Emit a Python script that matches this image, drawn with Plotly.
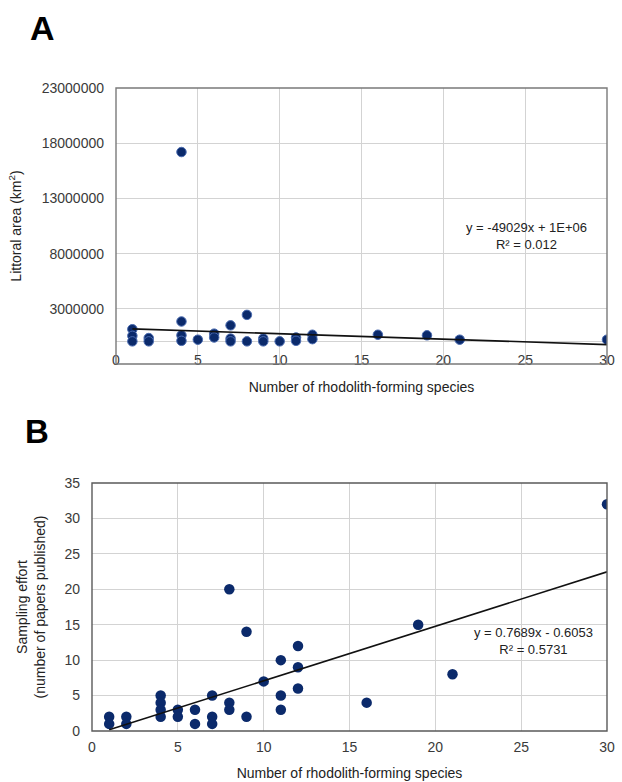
import plotly.graph_objects as go

# ---------------- data ----------------
# Panel A: littoral area vs number of rhodolith-forming species
a_species = [1, 1, 1, 2, 2, 4, 4, 4, 4, 5, 6, 6, 7, 7, 7, 8, 8, 9, 9, 10, 11, 11, 12, 12, 16, 19, 21, 30]
a_area = [1150000, 550000, 50000, 350000, 50000, 17200000, 1850000, 600000, 100000, 200000,
          750000, 400000, 1500000, 300000, 50000, 2450000, 50000, 300000, 50000, 50000,
          400000, 100000, 650000, 250000, 650000, 600000, 200000, 200000]
a_slope = -49029
a_intercept = 1230000
a_eq = "y = -49029x + 1E+06<br>R² = 0.012"

# Panel B: sampling effort vs number of rhodolith-forming species
b_species = [1, 1, 2, 2, 4, 4, 4, 4, 5, 5, 6, 6, 7, 7, 7, 8, 8, 8, 9, 9, 10, 11, 11, 11, 12, 12, 12, 16, 19, 21, 30]
b_papers = [2, 1, 2, 1, 5, 4, 3, 2, 3, 2, 3, 1, 5, 2, 1, 20, 4, 3, 14, 2, 7, 10, 5, 3, 12, 9, 6, 4, 15, 8, 32]
b_slope = 0.7689
b_intercept = -0.6053
b_eq = "y = 0.7689x - 0.6053<br>R² = 0.5731"

x_ticks = [0, 5, 10, 15, 20, 25, 30]
a_yticks = [3000000, 8000000, 13000000, 18000000, 23000000]
a_yticktext = ["3000000", "8000000", "13000000", "18000000", "23000000"]
b_yticks = [0, 5, 10, 15, 20, 25, 30, 35]

trend_x = [1, 30]

# ---------------- styling ----------------
W, H = 622, 782
FONT = "Arial, Liberation Sans, sans-serif"
NAVY = "#0b2a6b"
GRID = "#d3d3d3"
TICKC = "#3a3a3a"

def px_x(p):
    return p / W

def px_y(p):
    return 1 - p / H

fig = go.Figure()

fig.add_trace(go.Scatter(
    x=a_species, y=a_area, mode="markers", xaxis="x", yaxis="y",
    marker=dict(size=9.5, color=NAVY, line=dict(width=1, color="#4a6bb0")),
    showlegend=False))
fig.add_trace(go.Scatter(
    x=trend_x, y=[a_slope * v + a_intercept for v in trend_x], mode="lines",
    xaxis="x", yaxis="y", line=dict(color="#111111", width=1.6), showlegend=False))

fig.add_trace(go.Scatter(
    x=b_species, y=b_papers, mode="markers", xaxis="x2", yaxis="y2",
    marker=dict(size=10.5, color=NAVY, line=dict(width=0)),
    showlegend=False))
fig.add_trace(go.Scatter(
    x=trend_x, y=[b_slope * v + b_intercept for v in trend_x], mode="lines",
    xaxis="x2", yaxis="y2", line=dict(color="#111111", width=1.6), showlegend=False))

tickfont = dict(family=FONT, size=14, color=TICKC)
titlefont = dict(family=FONT, size=14, color="#222222")

fig.update_layout(
    width=W, height=H,
    margin=dict(l=0, r=0, t=0, b=0, autoexpand=False),
    paper_bgcolor="white", plot_bgcolor="white",
    font=dict(family=FONT),
    xaxis=dict(
        domain=[px_x(116), px_x(607)], range=[0, 30], tickvals=x_ticks,
        anchor="free", position=px_y(350), automargin=False,
        showline=False, showgrid=True, gridcolor=GRID, gridwidth=1.3,
        zeroline=False, ticks="", tickfont=tickfont,
        title=dict(text="Number of rhodolith-forming species", font=titlefont, standoff=15),
    ),
    yaxis=dict(
        domain=[px_y(364), px_y(88)], range=[-2000000, 23000000],
        tickvals=a_yticks, ticktext=a_yticktext, anchor="x", automargin=False,
        showline=False, showgrid=True, gridcolor=GRID, gridwidth=1.3,
        zeroline=True, zerolinecolor=GRID, zerolinewidth=1.3,
        ticks="", tickfont=tickfont, ticklabelstandoff=11,
        title=dict(text="Littoral area (km<sup>2</sup>)", font=titlefont, standoff=16),
    ),
    xaxis2=dict(
        domain=[px_x(92), px_x(607)], range=[0, 30], tickvals=x_ticks,
        anchor="y2", automargin=False,
        showline=False, showgrid=True, gridcolor=GRID, gridwidth=1.3,
        zeroline=False, ticks="", tickfont=tickfont, ticklabelstandoff=6,
        title=dict(text="Number of rhodolith-forming species", font=titlefont, standoff=14),
    ),
    yaxis2=dict(
        domain=[px_y(731), px_y(483)], range=[0, 35], tickvals=b_yticks,
        anchor="x2", automargin=False,
        showline=False, showgrid=True, gridcolor=GRID, gridwidth=1.3,
        zeroline=False, ticks="", tickfont=tickfont, ticklabelstandoff=11,
        title=dict(text="Sampling effort<br>(number of papers published)", font=titlefont, standoff=15),
    ),
    shapes=[
        dict(type="rect", xref="x domain", yref="y domain", x0=0, x1=1, y0=0, y1=1,
             line=dict(color="#7a7a7a", width=1.4), layer="above"),
        dict(type="rect", xref="x2 domain", yref="y2 domain", x0=0, x1=1, y0=0, y1=1,
             line=dict(color="#5a5a5a", width=1.4), layer="above"),
    ],
    annotations=[
        dict(text="<b>A</b>", xref="paper", yref="paper", x=px_x(42), y=px_y(28),
             showarrow=False, font=dict(family=FONT, size=34, color="black"),
             xanchor="center", yanchor="middle"),
        dict(text="<b>B</b>", xref="paper", yref="paper", x=px_x(37), y=px_y(432),
             showarrow=False, font=dict(family=FONT, size=33, color="black"),
             xanchor="center", yanchor="middle"),
        dict(text=a_eq, xref="x", yref="y", x=25.1, y=9600000, showarrow=False,
             font=dict(family=FONT, size=13, color="#222222"), align="center",
             xanchor="center", yanchor="middle"),
        dict(text=b_eq, xref="x2", yref="y2", x=25.7, y=12.7, showarrow=False,
             font=dict(family=FONT, size=13, color="#222222"), align="center",
             xanchor="center", yanchor="middle"),
    ],
)

fig.write_html(
    "out.html",
    config={"displayModeBar": False},
    post_script="document.body.style.margin='0';document.body.style.overflow='hidden';",
)
